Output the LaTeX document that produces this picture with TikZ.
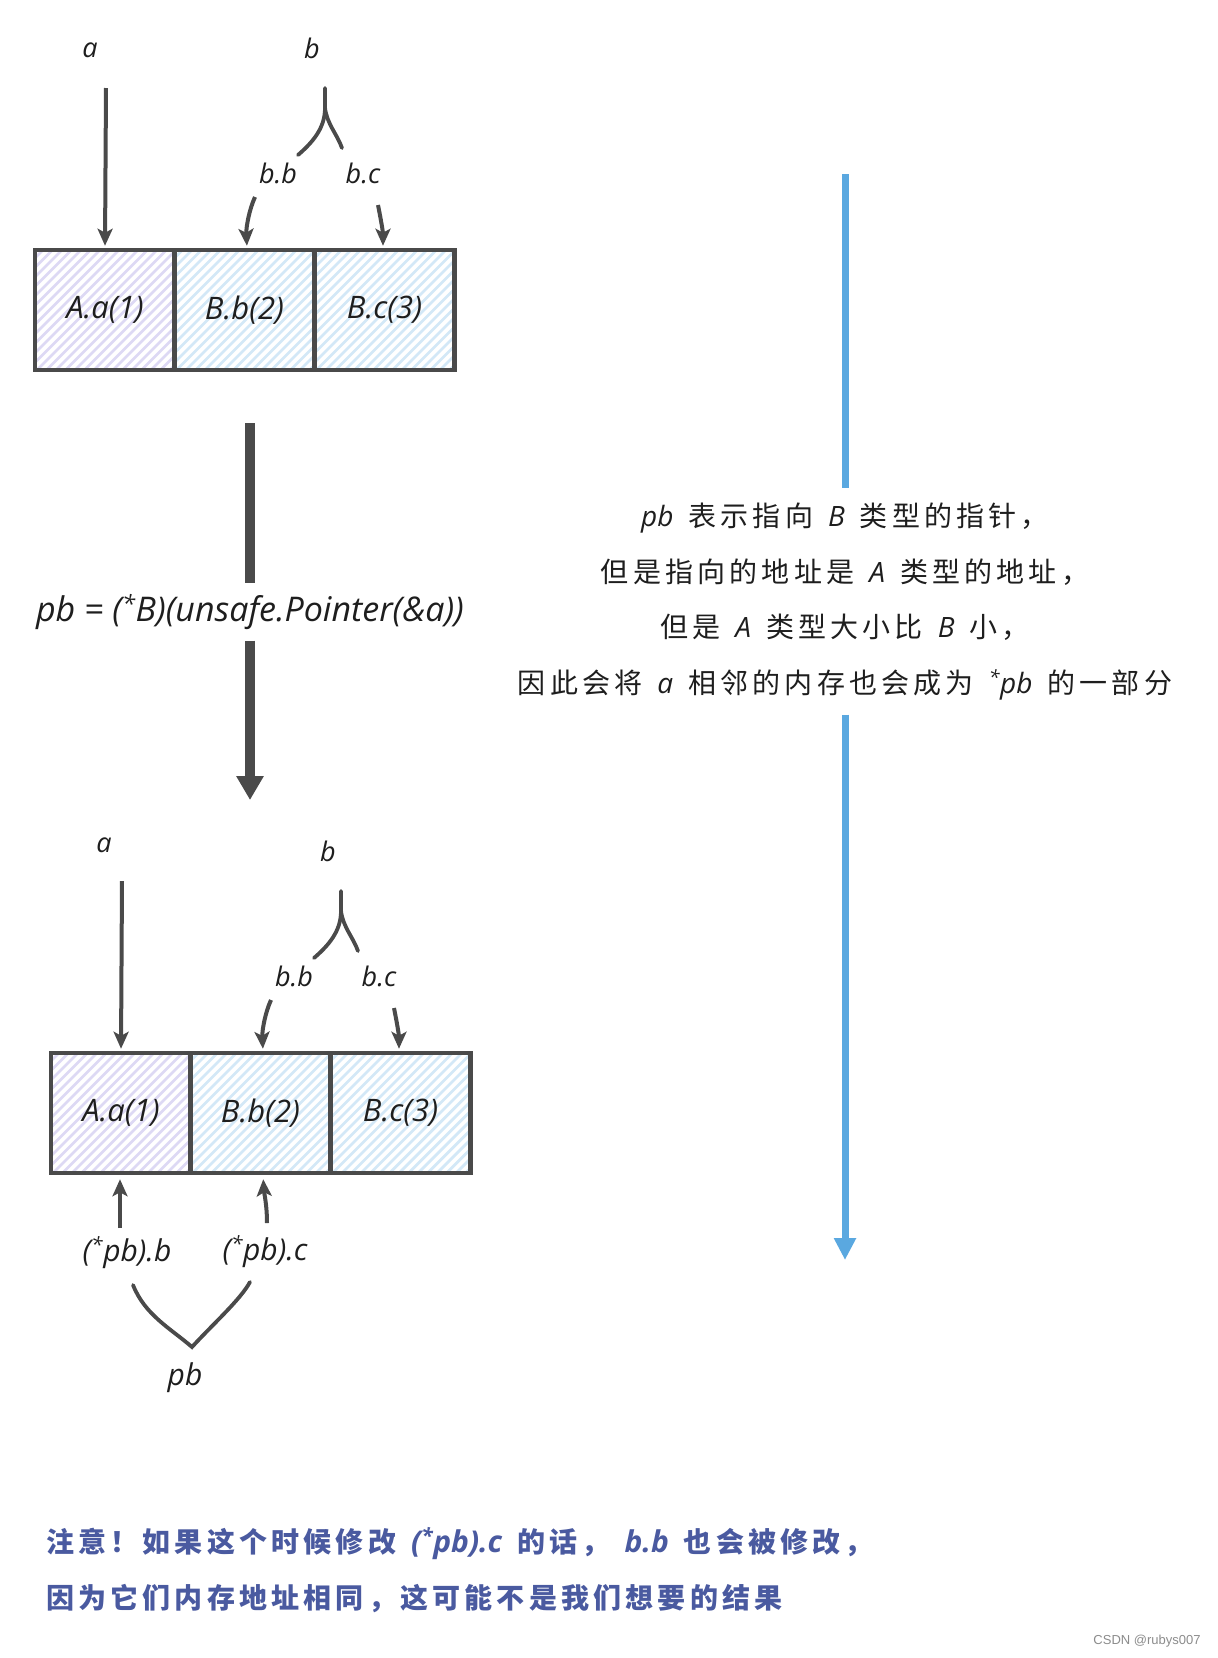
\documentclass[tikz,border=0pt]{standalone}
\usepackage{fontspec}
\usetikzlibrary{arrows.meta}
\setmainfont{Open Sans}
\newfontfamily\handfont{Open Sans}
\newfontfamily\cjkfont[LetterSpace=15]{Noto Sans CJK SC}
\newfontfamily\markfont{Liberation Sans}
\newcommand\lat[1]{{\handfont\itshape #1}}
\newcommand\stary{\textsuperscript{*}}
\newcommand\gap{\hspace{15pt}}
\definecolor{ink}{HTML}{1E1E1E}
\definecolor{edge}{HTML}{4A4A4A}
\definecolor{hpurple}{HTML}{DDD9F4}
\definecolor{hblue}{HTML}{D3E8F7}
\definecolor{skyarrow}{HTML}{5AA8E0}
\definecolor{notecol}{HTML}{4A5AA0}
\begin{document}
\begin{tikzpicture}[x=1pt,y=-1pt,
  lbl/.style={font=\handfont\itshape\fontsize{27}{30}\selectfont, text=ink, inner sep=0pt},
  plbl/.style={font=\handfont\itshape\fontsize{30}{32}\selectfont, text=ink, inner sep=0pt},
  hatch/.style={path picture={\foreach \i in {-14,...,16}{\draw[#1, line width=2.8pt] ([xshift=\i*9.5pt, yshift=-2pt]path picture bounding box.south west) -- ++(170pt,170pt);}}},
  cell/.style={draw=edge, line width=4.5pt, minimum width=140pt, minimum height=120pt, inner sep=0pt,
    font=\handfont\itshape\fontsize{31}{34}\selectfont, text=ink},
  conn/.style={draw=edge, line width=4pt, -{Stealth[length=17pt,width=15pt,inset=4pt]}},
  fork/.style={draw=edge, line width=3.8pt, line cap=round},
  bigarrow/.style={draw=edge, line width=9.5pt},
  skyline/.style={draw=skyarrow, line width=7pt},
  cjktext/.style={font=\cjkfont\fontsize{28}{55.7}\selectfont, text=ink, align=center, inner sep=0pt},
  warntext/.style={font=\cjkfont\bfseries\fontsize{28}{34}\selectfont, text=notecol, inner sep=0pt, anchor=west}
]
\fill[white] (0,0) rectangle (1218,1658);
\useasboundingbox (0,0) rectangle (1218,1658);

% ---------- top memory ----------
\node[cell, hatch=hpurple] (A1) at (105,310) {A.a(1)};
\node[cell, hatch=hblue] (B1) at (244.5,310) {B.b(2)};
\node[cell, hatch=hblue] (C1) at (384.5,310) {B.c(3)};

\node[lbl] (la1) at (90,50) {a};
\node[lbl] (lb1) at (312,48) {b};
\node[lbl] (lbb1) at (278,173) {b.b};
\node[lbl] (lbc1) at (363,173) {b.c};

\coordinate (aS1) at (106,88);
\draw[conn, shorten >=2pt] (aS1) -- (A1.north);

\coordinate (bF1) at (325,88);
\coordinate (bM1) at (325,108);
\coordinate (bL1) at (298,155);
\coordinate (bR1) at (342,148);
\draw[fork] (bF1) -- (bM1) .. controls (325,128) and (313,142) .. (bL1);
\draw[fork] (bM1) .. controls (327,124) and (337,134) .. (bR1);

\coordinate (bbS1) at (255,197);
\coordinate (bcS1) at (378,205);
\draw[conn, shorten >=2pt] (bbS1) .. controls (249,210) and (246,228) .. ([xshift=2.5pt]B1.north);
\draw[conn, shorten >=2pt] (bcS1) .. controls (381,220) and (383,232) .. ([xshift=-1.5pt]C1.north);

% ---------- cast arrow ----------
\coordinate (mTop) at (250,423);
\coordinate (mTip) at (250,800);
\node[font=\handfont\itshape\fontsize{34}{38}\selectfont, text=ink, inner sep=0pt, minimum height=57pt] (cast) at (250,612) {pb = (\stary B)(unsafe.Pointer(\&a))};
\draw[bigarrow] (mTop) -- (cast.north);
\draw[bigarrow, -{Triangle[length=24pt,width=26pt]}] (cast.south) -- (mTip);

% ---------- bottom memory ----------
\node[cell, hatch=hpurple] (A2) at (121,1113) {A.a(1)};
\node[cell, hatch=hblue] (B2) at (260.5,1113) {B.b(2)};
\node[cell, hatch=hblue] (C2) at (400.5,1113) {B.c(3)};

\node[lbl] (la2) at (104,845) {a};
\node[lbl] (lb2) at (328,851) {b};
\node[lbl] (lbb2) at (294,976) {b.b};
\node[lbl] (lbc2) at (379,976) {b.c};

\coordinate (aS2) at (122,881);
\draw[conn, shorten >=2pt] (aS2) -- (A2.north);

\coordinate (bF2) at (341,891);
\coordinate (bM2) at (341,911);
\coordinate (bL2) at (314,958);
\coordinate (bR2) at (358,951);
\draw[fork] (bF2) -- (bM2) .. controls (341,931) and (329,945) .. (bL2);
\draw[fork] (bM2) .. controls (343,927) and (353,937) .. (bR2);

\coordinate (bbS2) at (271,1000);
\coordinate (bcS2) at (394,1008);
\draw[conn, shorten >=2pt] (bbS2) .. controls (265,1013) and (262,1031) .. ([xshift=2.5pt]B2.north);
\draw[conn, shorten >=2pt] (bcS2) .. controls (397,1023) and (399,1035) .. ([xshift=-1.5pt]C2.north);

% ---------- pb pointers ----------
\node[plbl] (pbB) at (127,1253) {(\stary pb).b};
\node[plbl] (pbC) at (265,1252) {(\stary pb).c};
\node[plbl] (pbL) at (185,1378) {pb};

\coordinate (u1S) at (120,1228);
\coordinate (u2S) at (267,1223);
\draw[conn, shorten >=4pt] (u1S) -- ([xshift=-1pt]A2.south);
\draw[conn, shorten >=4pt] (u2S) .. controls (267,1205) and (264,1192) .. ([xshift=2.5pt]B2.south);

\coordinate (cL) at (133,1285);
\coordinate (cM) at (192,1347);
\coordinate (cR) at (250,1282);
\draw[fork] (cL) .. controls (145,1315) and (170,1328) .. (cM) .. controls (215,1322) and (240,1300) .. (cR);

% ---------- blue arrow and note ----------
\coordinate (blTop) at (845,174);
\coordinate (blTip) at (845,1260);
\node[cjktext, minimum height=226pt] (note) at (845,601.5) {%
\lat{pb}\gap 表示指向\gap\lat{B}\gap 类型的指针，\\
但是指向的地址是\gap\lat{A}\gap 类型的地址，\\
但是\gap\lat{A}\gap 类型大小比\gap\lat{B}\gap 小，\\
因此会将\gap\lat{a}\gap 相邻的内存也会成为\gap\lat{\stary pb}\gap 的一部分};
\draw[skyline] (blTop) -- (note.north);
\draw[skyline, -{Triangle[length=22pt,width=21pt]}] (note.south) -- (blTip);

% ---------- warning text ----------
\node[warntext] (w1) at (46,1544) {注意！如果这个时候修改\gap{\fontsize{30}{34}\selectfont\lat{(\stary pb).c}}\gap 的话，\gap{\fontsize{30}{34}\selectfont\lat{b.b}}\gap 也会被修改，};
\node[warntext] (w2) at (46,1599) {因为它们内存地址相同，这可能不是我们想要的结果};

\node[font=\markfont\fontsize{13}{15}\selectfont, text=black!45, inner sep=0pt] (wm) at (1147,1641) {CSDN @rubys007};
\end{tikzpicture}
\end{document}
